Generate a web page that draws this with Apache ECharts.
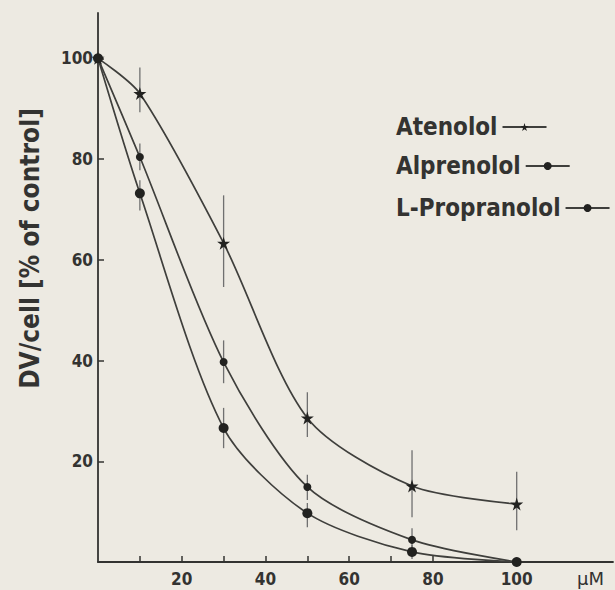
<!DOCTYPE html>
<html>
<head>
<meta charset="utf-8">
<title>DV/cell vs concentration</title>
<script src="https://cdn.jsdelivr.net/npm/echarts@6/dist/echarts.min.js"></script>
<style>
  html, body { margin: 0; padding: 0; background: #edeae2; }
  #chart { width: 615px; height: 590px; }
</style>
</head>
<body>
<div id="chart"></div>
<script>
// Concentration (µM) at which each culture was measured
const doses = [0, 10, 30, 50, 75, 100];

// Mean DV/cell, % of control
const atenolol    = [100, 93.0, 63.3, 28.6, 15.1, 11.5];
const alprenolol  = [100, 80.4, 39.7, 14.9, 4.4, 0];
const propranolol = [100, 73.2, 26.6, 9.7, 2.0, 0];

// Spread of the measurements (lower / upper end of each bar)
const atenololLow     = [null, 89.3, 54.6, 24.8, 8.9, 6.3];
const atenololHigh    = [null, 98.2, 72.8, 33.7, 22.2, 17.9];
const alprenololLow   = [null, 77.8, 35.5, 12.3, 3.0, null];
const alprenololHigh  = [null, 83.1, 44.0, 17.3, 6.7, null];
const propranololLow  = [null, 69.8, 22.6, 6.9, 0.6, null];
const propranololHigh = [null, 75.8, 30.6, 11.7, 3.4, null];

// Axis ticks and labels
const xTicks = [10, 20, 30, 40, 50, 60, 70, 80];
const xLabels = [20, 40, 60, 80, 100];
const yTicks = [20, 40, 60, 80, 100];

const seriesNames = ['Atenolol', 'Alprenolol', 'L-Propranolol'];

const INK = '#333331';
const LINE = '#3f3f3c';
const FONT = "'DejaVu Sans Condensed', 'DejaVu Sans', sans-serif";
const STAR = 'path://M50 0 L61 35 L98 35 L68 57 L79 91 L50 70 L21 91 L32 57 L2 35 L39 35 Z';

function pairs(ys) {
  return doses.map((x, i) => [x, ys[i]]);
}
function bars(low, high) {
  const out = [];
  doses.forEach((x, i) => {
    if (low[i] != null && high[i] != null) out.push([x, low[i], high[i]]);
  });
  return out;
}

function errorBarSeries(low, high) {
  return {
    type: 'custom',
    silent: true,
    z: 1,
    data: bars(low, high),
    renderItem: function (params, api) {
      const a = api.coord([api.value(0), api.value(1)]);
      const b = api.coord([api.value(0), api.value(2)]);
      return {
        type: 'line',
        shape: { x1: a[0], y1: a[1], x2: b[0], y2: b[1] },
        style: { stroke: '#707070', lineWidth: 1.3 }
      };
    }
  };
}

function curve(name, values, symbol, size) {
  return {
    name: name,
    type: 'line',
    z: 3,
    data: pairs(values),
    smooth: 0.28,
    symbol: symbol,
    symbolSize: size,
    showSymbol: true,
    lineStyle: { color: LINE, width: 1.7 },
    itemStyle: { color: '#222220', borderWidth: 0 },
    emphasis: { disabled: true }
  };
}

function legendRow(name, top) {
  return {
    data: [name],
    orient: 'horizontal',
    align: 'right',
    left: 391,
    top: top,
    itemWidth: 44,
    itemHeight: 10,
    selectedMode: false,
    textStyle: { fontFamily: FONT, fontWeight: 'bold', fontSize: 24, color: INK }
  };
}

const chart = echarts.init(document.getElementById('chart'), null, { renderer: 'svg' });

chart.setOption({
  backgroundColor: '#edeae2',
  animation: false,
  grid: { left: 98, top: 13, width: 515, height: 549, containLabel: false },
  legend: [
    legendRow(seriesNames[0], 110),
    legendRow(seriesNames[1], 149),
    legendRow(seriesNames[2], 191)
  ],
  xAxis: {
    type: 'value',
    min: 0,
    max: 123,
    splitLine: { show: false },
    axisLine: { lineStyle: { color: INK, width: 1.8 } },
    axisTick: { inside: true, length: 6, customValues: xTicks, lineStyle: { color: INK, width: 1.5 } },
    axisLabel: {
      customValues: xLabels,
      margin: 8,
      color: INK,
      fontFamily: FONT,
      fontWeight: 'bold',
      fontSize: 17
    }
  },
  yAxis: {
    type: 'value',
    min: 0,
    max: 109,
    name: 'DV/cell [% of control]',
    nameLocation: 'middle',
    nameGap: 55,
    nameTextStyle: {
      color: INK,
      fontFamily: FONT,
      fontWeight: 'bold',
      fontSize: 26,
      padding: [0, 0, 0, 78]
    },
    splitLine: { show: false },
    axisLine: { lineStyle: { color: INK, width: 1.8 } },
    axisTick: { inside: true, length: 6, customValues: yTicks, lineStyle: { color: INK, width: 1.5 } },
    axisLabel: {
      customValues: yTicks,
      margin: 5,
      color: INK,
      fontFamily: FONT,
      fontWeight: 'bold',
      fontSize: 17
    }
  },
  graphic: [
    {
      type: 'text',
      left: 577,
      top: 569,
      style: { text: 'µM', fill: INK, font: "18px 'DejaVu Sans', sans-serif" }
    }
  ],
  series: [
    errorBarSeries(atenololLow, atenololHigh),
    errorBarSeries(alprenololLow, alprenololHigh),
    errorBarSeries(propranololLow, propranololHigh),
    curve(seriesNames[0], atenolol, STAR, 13),
    curve(seriesNames[1], alprenolol, 'circle', 8),
    curve(seriesNames[2], propranolol, 'circle', 10)
  ]
});
</script>
</body>
</html>
